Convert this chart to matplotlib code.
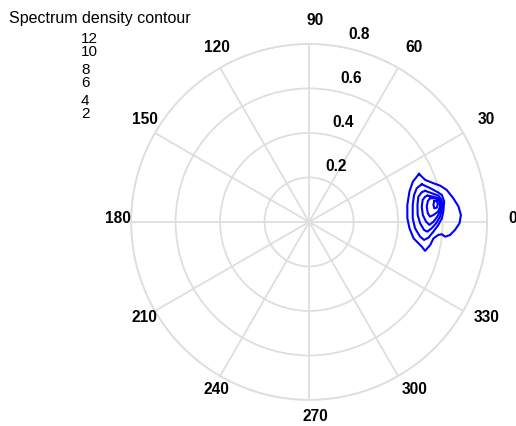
import numpy as np
import matplotlib
matplotlib.use("Agg")
import matplotlib.pyplot as plt
from matplotlib.transforms import offset_copy

plt.rcParams['font.family'] = ['Liberation Sans', 'DejaVu Sans']

# Contour levels of the directional spectrum density
levels = [12, 10, 8, 6, 4, 2]

# Each contour: direction (deg) and normalised frequency radius
theta_2 = [23.6, 19.9, 17.3, 15.5, 13.1, 9.3, 5.9, 2.6, -0.5, -3.1, -5.3, -6.2,
           -5.3, -5.7, -7.5, -10.8, -14.0, -12.4, -8.9, -3.6, 2.2, 9.8, 16.8, 21.2]
r_2 = [0.539, 0.555, 0.585, 0.611, 0.635, 0.657, 0.675, 0.683, 0.676, 0.657, 0.636, 0.615,
       0.599, 0.584, 0.564, 0.554, 0.537, 0.519, 0.475, 0.452, 0.442, 0.448, 0.471, 0.500]

theta_4 = [18.5, 15.6, 13.3, 11.5, 8.6, 4.4, 1.6, -1.3, -4.5, -7.5, -8.9, -7.5,
           -3.4, 2.0, 9.3, 14.4, 17.4]
r_4 = [0.534, 0.565, 0.590, 0.609, 0.614, 0.605, 0.597, 0.581, 0.560, 0.541, 0.523, 0.503,
       0.477, 0.466, 0.472, 0.487, 0.507]

theta_6 = [15.0, 13.2, 11.5, 9.4, 5.9, 2.3, -0.6, -2.9, -4.7, -4.0, -0.7, 3.7, 8.9, 13.0, 14.8]
r_6 = [0.540, 0.566, 0.593, 0.604, 0.602, 0.589, 0.571, 0.552, 0.533, 0.518, 0.499, 0.489,
       0.493, 0.504, 0.524]

theta_8 = [12.5, 11.5, 10.4, 8.5, 5.2, 2.4, 0.1, -1.4, 0.1, 3.5, 7.7, 11.0, 12.3]
r_8 = [0.545, 0.570, 0.591, 0.599, 0.594, 0.577, 0.559, 0.541, 0.526, 0.512, 0.511, 0.520, 0.534]

theta_10 = [11.1, 10.6, 9.2, 6.7, 4.6, 3.2, 2.5, 4.2, 7.4, 10.0]
r_10 = [0.554, 0.576, 0.592, 0.593, 0.582, 0.560, 0.544, 0.535, 0.533, 0.542]

theta_12 = [9.5, 9.3, 7.8, 6.4, 6.2, 7.8]
r_12 = [0.570, 0.582, 0.584, 0.578, 0.566, 0.564]

contours = [(theta_2, r_2), (theta_4, r_4), (theta_6, r_6),
            (theta_8, r_8), (theta_10, r_10), (theta_12, r_12)]

theta_ticks = list(range(0, 360, 30))
r_ticks = [0.2, 0.4, 0.6, 0.8]
r_max = 0.8

fig = plt.figure(figsize=(5.16, 4.26), dpi=100)
ax = fig.add_axes([0.254, 0.061, 0.690, 0.836], projection='polar')

grid_color = '#dedede'
for th, r in contours:
    t = np.deg2rad(np.append(th, th[0]))
    rr = np.append(r, r[0])
    ax.plot(t, rr, color='#0000ff', lw=1.5)

ax.set_ylim(0, r_max)
ax.set_thetagrids(theta_ticks, labels=[''] * len(theta_ticks))
ax.set_rgrids(r_ticks, labels=[''] * len(r_ticks), angle=80)
ax.grid(True, color=grid_color, lw=1.3)
ax.spines['polar'].set_color(grid_color)
ax.spines['polar'].set_linewidth(1.3)

# angle labels just outside the rim
ang_tr = offset_copy(ax.transData, fig=fig, x=6.5, y=3.5, units='dots')
for a in theta_ticks:
    ax.text(np.deg2rad(a), r_max * 1.11, str(a), transform=ang_tr, fontsize=11.2,
            fontweight='bold', ha='center', va='center', clip_on=False)

# radial tick labels, nudged off their circles
lab_tr = offset_copy(ax.transData, fig=fig, x=19, y=12, units='dots')
for rv in r_ticks:
    ax.text(np.deg2rad(80), rv, f'{rv:g}', transform=lab_tr, fontsize=11.2,
            fontweight='bold', ha='center', va='center', clip_on=False)

# level key
fig.text(9 / 516, 1 - 18 / 426, 'Spectrum density contour', fontsize=11.5,
         ha='left', va='center')
key_y = [39, 52, 70, 83, 101, 114]
for lv, y in zip(levels, key_y):
    fig.text(81 / 516, 1 - y / 426, str(lv), fontsize=11, ha='left', va='center')

fig.savefig('out.png', dpi=100)
